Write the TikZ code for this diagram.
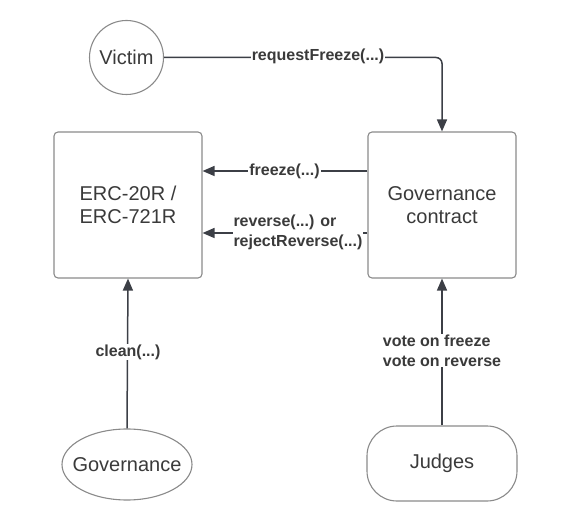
\documentclass[tikz,border=0pt]{standalone}
\usepackage{fontspec}
\setmainfont{Liberation Sans}
\usetikzlibrary{arrows.meta,shapes.geometric}
\definecolor{txt}{HTML}{3A3A3A}
\definecolor{ln}{HTML}{3C3F46}
\definecolor{bd}{HTML}{8A8A8A}
\tikzset{
  nodefont/.style={text=txt, font=\fontsize{20}{23}\selectfont},
  box/.style={draw=bd, line width=1.1pt, rounded corners=4pt, minimum width=148pt, minimum height=146pt, align=center, nodefont, inner sep=0pt},
  conn/.style={draw=ln, line width=1.5pt, -{Triangle[length=12pt,width=10pt]}},
  lbl/.style={fill=white, text=txt, font=\fontsize{16}{20}\selectfont\bfseries, inner sep=1pt, align=left},
}
\begin{document}
\begin{tikzpicture}[x=1pt,y=-1pt]
\useasboundingbox (0,0) rectangle (562,518);
\node[draw=bd, line width=1.1pt, circle, minimum size=74pt, inner sep=0pt, nodefont] (victim) at (126.5,57.5) {Victim};
\node[box] (erc) at (128,205) {ERC-20R /\\ERC-721R};
\node[box] (gov) at (442,205) {Governance\\contract};
\node[draw=bd, line width=1.1pt, ellipse, minimum width=130pt, minimum height=71pt, inner xsep=-12pt, inner ysep=0pt, nodefont] (govn) at (127,464.5) {Governance};
\node[draw=bd, line width=1.1pt, rounded corners=30pt, minimum width=150pt, minimum height=75pt, inner sep=0pt, nodefont] (judges) at (442,463.5) {Judges};
% connectors
\draw[conn, rounded corners=6pt] (victim.east) -- (victim.east -| gov.north) -- (gov.north);
\node[lbl] at (318,56.5) {requestFreeze(...)};
\coordinate (fz) at (0,171);
\draw[conn] (gov.west |- fz) -- (erc.east |- fz);
\node[lbl] at (284.5,171) {freeze(...)};
\coordinate (rv) at (0,233);
\draw[conn] (gov.west |- rv) -- (erc.east |- rv);
\node[lbl] at (298,232) {reverse(...) or\\rejectReverse(...)};
\draw[conn] (govn.north) -- (erc.south);
\node[lbl] at (128,352) {clean(...)};
\draw[conn] (judges.north) -- (gov.south);
\node[lbl] at (442,350.5) {vote on freeze\\vote on reverse};
\end{tikzpicture}
\end{document}
